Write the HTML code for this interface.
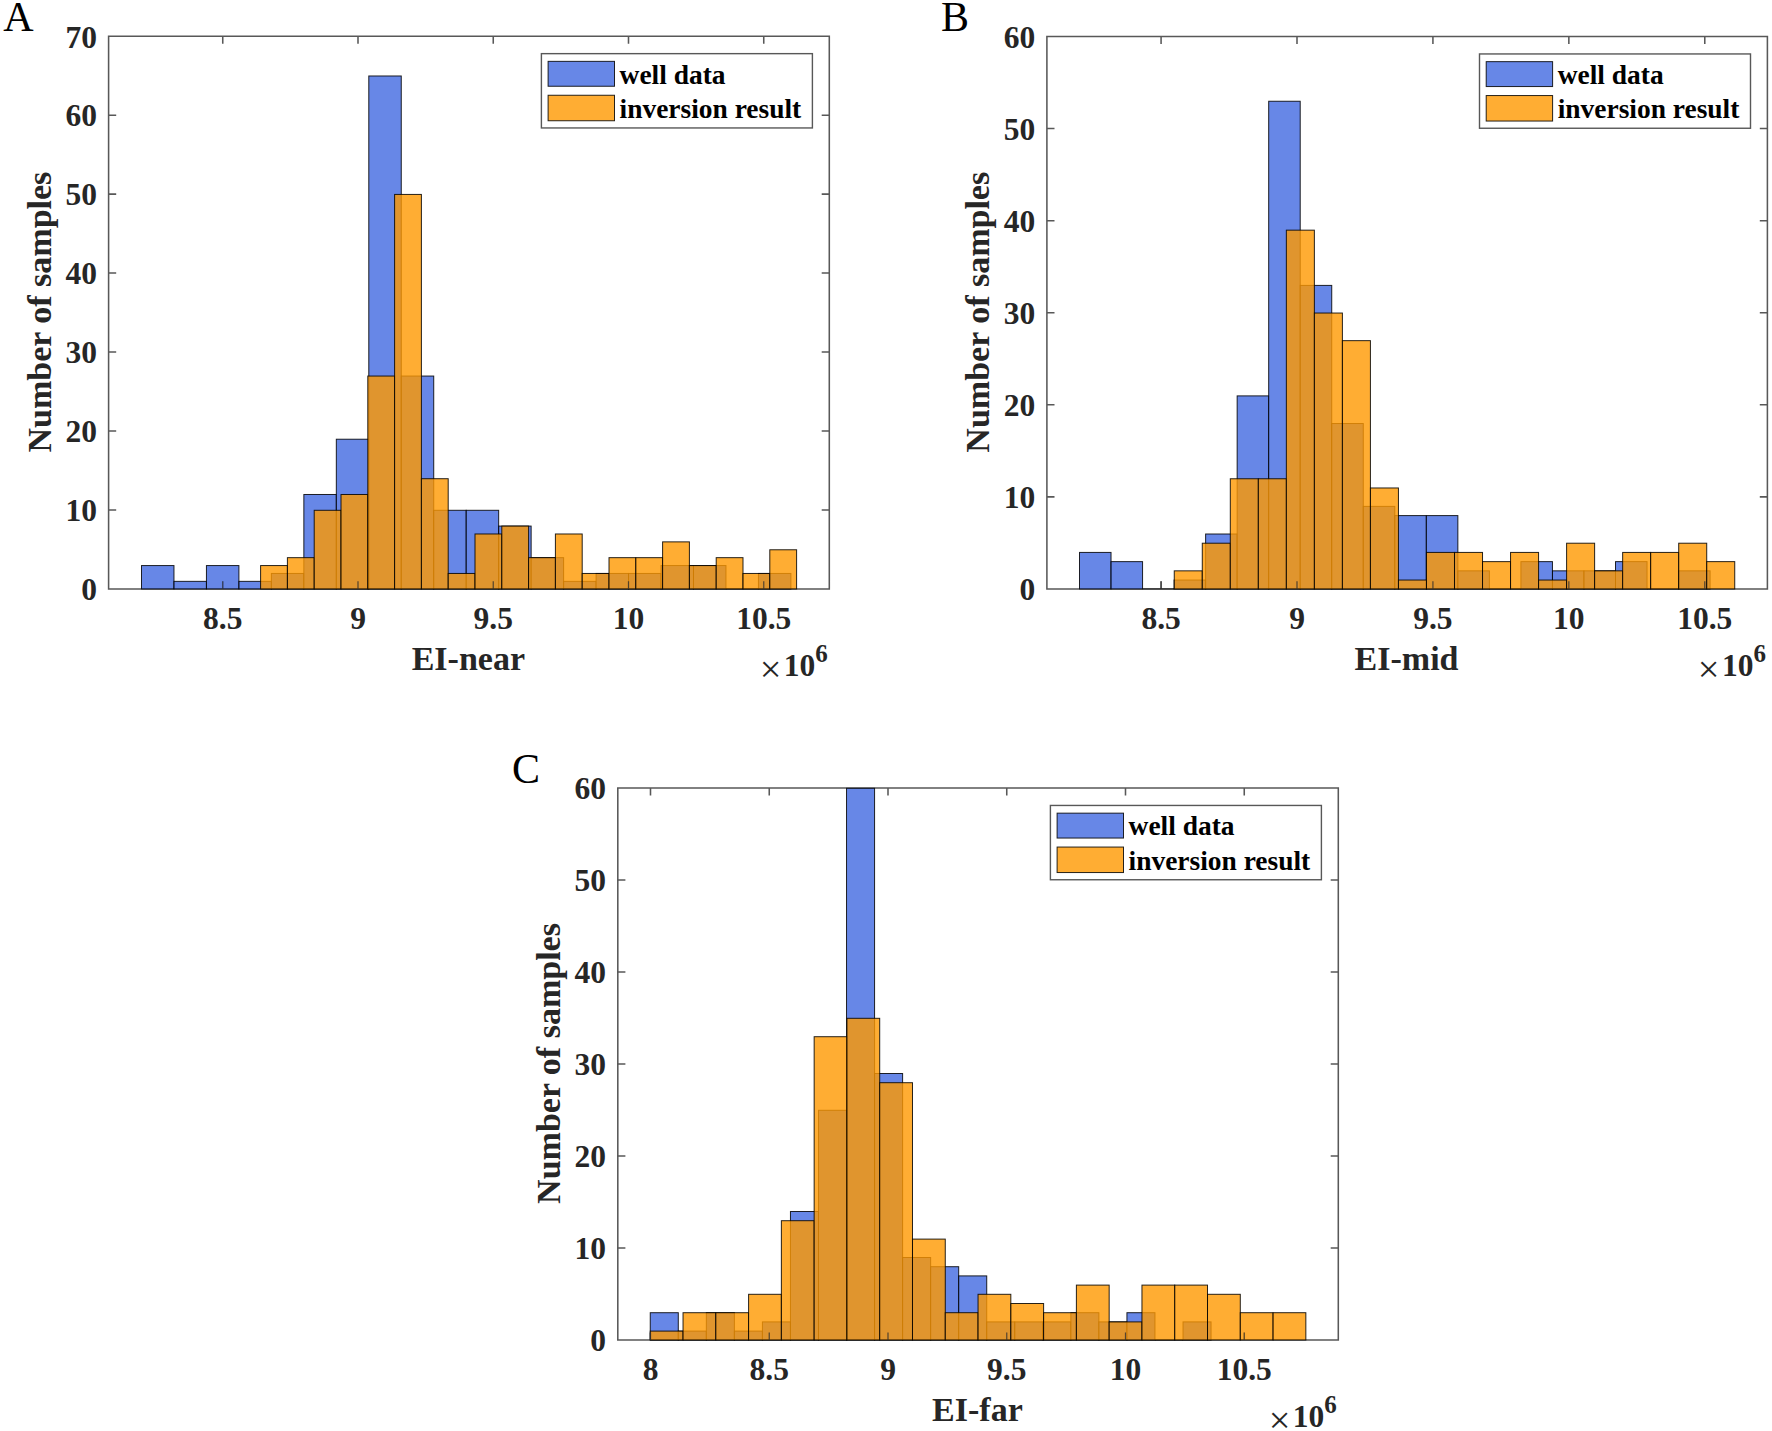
<!DOCTYPE html>
<html lang="en">
<head>
<meta charset="utf-8">
<title>EI histograms</title>
<style>
html,body{margin:0;padding:0;background:#fff;}
body{width:1772px;height:1431px;overflow:hidden;}
svg{display:block;}
text{font-family:"Liberation Serif","Times New Roman",Times,serif;}
.tk{font-size:31.5px;font-weight:bold;fill:#262626;}
.lb{font-size:34px;font-weight:bold;fill:#262626;}
.lg{font-size:27.45px;font-weight:bold;fill:#000;}
.pl{font-size:42px;font-weight:normal;fill:#000;}
.ax{stroke:#585858;stroke-width:1.55;fill:none;}
.bb{fill:rgb(65,105,225);fill-opacity:0.8;stroke:#000;stroke-width:1;stroke-opacity:0.85;}
.ob{fill:rgb(255,153,0);fill-opacity:0.8;stroke:#000;stroke-width:1;stroke-opacity:0.85;}
</style>
</head>
<body>
<svg width="1772" height="1431" viewBox="0 0 1772 1431">
<rect x="0" y="0" width="1772" height="1431" fill="#fff"/>
<g id="panel-A">
<text class="pl" x="3.3" y="30.5">A</text>
<path class="ax" d="M108.6 36.2H829.3V588.95H108.6ZM222.75 588.95v-7.6M222.75 36.2v7.6M358 588.95v-7.6M358 36.2v7.6M493.25 588.95v-7.6M493.25 36.2v7.6M628.5 588.95v-7.6M628.5 36.2v7.6M763.75 588.95v-7.6M763.75 36.2v7.6M108.6 588.95h7.6M829.3 588.95h-7.6M108.6 509.99h7.6M829.3 509.99h-7.6M108.6 431.02h7.6M829.3 431.02h-7.6M108.6 352.06h7.6M829.3 352.06h-7.6M108.6 273.09h7.6M829.3 273.09h-7.6M108.6 194.13h7.6M829.3 194.13h-7.6M108.6 115.16h7.6M829.3 115.16h-7.6M108.6 36.2h7.6M829.3 36.2h-7.6"/>
<g class="bb">
<rect x="141.5" y="565.56" width="32.47" height="23.39"/><rect x="173.97" y="581.35" width="32.47" height="7.6"/><rect x="206.44" y="565.56" width="32.47" height="23.39"/><rect x="238.91" y="581.35" width="32.47" height="7.6"/><rect x="271.38" y="573.46" width="32.47" height="15.49"/><rect x="303.85" y="494.49" width="32.47" height="94.46"/><rect x="336.32" y="439.22" width="32.47" height="149.73"/><rect x="368.79" y="75.98" width="32.47" height="512.97"/><rect x="401.26" y="376.05" width="32.47" height="212.9"/><rect x="433.73" y="510.29" width="32.47" height="78.66"/><rect x="466.2" y="510.29" width="32.47" height="78.66"/><rect x="498.67" y="526.08" width="32.47" height="62.87"/><rect x="531.14" y="557.66" width="32.47" height="31.29"/><rect x="563.61" y="581.35" width="32.47" height="7.6"/><rect x="596.08" y="573.46" width="32.47" height="15.49"/><rect x="628.55" y="573.46" width="32.47" height="15.49"/><rect x="661.02" y="565.56" width="32.47" height="23.39"/><rect x="693.49" y="565.56" width="32.47" height="23.39"/><path d="M725.96 588.95h32.47"/><rect x="758.43" y="573.46" width="32.47" height="15.49"/>
</g>
<g class="ob">
<rect x="260.6" y="565.56" width="26.8" height="23.39"/><rect x="287.4" y="557.66" width="26.8" height="31.29"/><rect x="314.2" y="510.29" width="26.8" height="78.66"/><rect x="341" y="494.49" width="26.8" height="94.46"/><rect x="367.8" y="376.05" width="26.8" height="212.9"/><rect x="394.6" y="194.43" width="26.8" height="394.52"/><rect x="421.4" y="478.7" width="26.8" height="110.25"/><rect x="448.2" y="573.46" width="26.8" height="15.49"/><rect x="475" y="533.98" width="26.8" height="54.98"/><rect x="501.8" y="526.08" width="26.8" height="62.87"/><rect x="528.6" y="557.66" width="26.8" height="31.29"/><rect x="555.4" y="533.98" width="26.8" height="54.98"/><rect x="582.2" y="573.46" width="26.8" height="15.49"/><rect x="609" y="557.66" width="26.8" height="31.29"/><rect x="635.8" y="557.66" width="26.8" height="31.29"/><rect x="662.6" y="541.87" width="26.8" height="47.08"/><rect x="689.4" y="565.56" width="26.8" height="23.39"/><rect x="716.2" y="557.66" width="26.8" height="31.29"/><rect x="743" y="573.46" width="26.8" height="15.49"/><rect x="769.8" y="549.77" width="26.8" height="39.18"/>
</g>
<path class="ax" style="stroke:#333;stroke-opacity:0.8;stroke-width:1.2" d="M222.75 588.95v-7.6M358 588.95v-7.6M493.25 588.95v-7.6M628.5 588.95v-7.6M763.75 588.95v-7.6"/>
<text class="tk" text-anchor="middle" x="222.75" y="628.75">8.5</text>
<text class="tk" text-anchor="middle" x="358" y="628.75">9</text>
<text class="tk" text-anchor="middle" x="493.25" y="628.75">9.5</text>
<text class="tk" text-anchor="middle" x="628.5" y="628.75">10</text>
<text class="tk" text-anchor="middle" x="763.75" y="628.75">10.5</text>
<text class="tk" text-anchor="end" x="96.9" y="600.25">0</text>
<text class="tk" text-anchor="end" x="96.9" y="521.29">10</text>
<text class="tk" text-anchor="end" x="96.9" y="442.32">20</text>
<text class="tk" text-anchor="end" x="96.9" y="363.36">30</text>
<text class="tk" text-anchor="end" x="96.9" y="284.39">40</text>
<text class="tk" text-anchor="end" x="96.9" y="205.43">50</text>
<text class="tk" text-anchor="end" x="96.9" y="126.46">60</text>
<text class="tk" text-anchor="end" x="96.9" y="47.5">70</text>
<text class="lb" text-anchor="middle" x="468.35" y="670.15">EI-near</text>
<text class="lb" text-anchor="middle" transform="translate(50.8 312.08) rotate(-90)">Number of samples</text>
<text class="tk" text-anchor="end" x="827.8" y="675.65"><tspan font-weight="normal" font-size="38.5px" dy="6.3">×</tspan><tspan dx="2.4" dy="-6.3">10</tspan><tspan font-size="25px" dy="-13.7">6</tspan></text>
<rect x="541.4" y="53.65" width="271" height="74.3" fill="#fff" stroke="#585858" stroke-width="1.4"/>
<rect class="bb" x="548.1" y="61.35" width="66.4" height="24.9"/>
<rect class="ob" x="548.1" y="95.25" width="66.4" height="25.5"/>
<text class="lg" x="619.6" y="83.55">well data</text>
<text class="lg" x="619.6" y="117.95">inversion result</text>
</g>
<g id="panel-B">
<text class="pl" x="941" y="30.5">B</text>
<path class="ax" d="M1046.9 36.5H1767.4V588.95H1046.9ZM1161.08 588.95v-7.6M1161.08 36.5v7.6M1297 588.95v-7.6M1297 36.5v7.6M1432.92 588.95v-7.6M1432.92 36.5v7.6M1568.85 588.95v-7.6M1568.85 36.5v7.6M1704.78 588.95v-7.6M1704.78 36.5v7.6M1046.9 588.95h7.6M1767.4 588.95h-7.6M1046.9 496.88h7.6M1767.4 496.88h-7.6M1046.9 404.8h7.6M1767.4 404.8h-7.6M1046.9 312.73h7.6M1767.4 312.73h-7.6M1046.9 220.65h7.6M1767.4 220.65h-7.6M1046.9 128.57h7.6M1767.4 128.57h-7.6M1046.9 36.5h7.6M1767.4 36.5h-7.6"/>
<g class="bb">
<rect x="1079.5" y="552.42" width="31.53" height="36.53"/><rect x="1111.03" y="561.63" width="31.53" height="27.32"/><path d="M1142.56 588.95h31.53"/><rect x="1174.09" y="580.04" width="31.53" height="8.91"/><rect x="1205.62" y="534" width="31.53" height="54.95"/><rect x="1237.15" y="395.89" width="31.53" height="193.06"/><rect x="1268.68" y="101.25" width="31.53" height="487.7"/><rect x="1300.21" y="285.4" width="31.53" height="303.55"/><rect x="1331.74" y="423.52" width="31.53" height="165.44"/><rect x="1363.27" y="506.38" width="31.53" height="82.57"/><rect x="1394.8" y="515.59" width="31.53" height="73.36"/><rect x="1426.33" y="515.59" width="31.53" height="73.36"/><rect x="1457.86" y="570.84" width="31.53" height="18.12"/><path d="M1489.39 588.95h31.53"/><rect x="1520.92" y="561.63" width="31.53" height="27.32"/><rect x="1552.45" y="570.84" width="31.53" height="18.12"/><rect x="1583.98" y="570.84" width="31.53" height="18.12"/><rect x="1615.51" y="561.63" width="31.53" height="27.32"/><path d="M1647.04 588.95h31.53"/><rect x="1678.57" y="570.84" width="31.53" height="18.12"/>
</g>
<g class="ob">
<rect x="1174.25" y="570.84" width="28.02" height="18.12"/><rect x="1202.28" y="543.21" width="28.02" height="45.74"/><rect x="1230.3" y="478.76" width="28.02" height="110.19"/><rect x="1258.33" y="478.76" width="28.02" height="110.19"/><rect x="1286.35" y="230.16" width="28.02" height="358.79"/><rect x="1314.38" y="313.03" width="28.02" height="275.93"/><rect x="1342.4" y="340.65" width="28.02" height="248.3"/><rect x="1370.42" y="487.97" width="28.02" height="100.98"/><rect x="1398.45" y="580.04" width="28.02" height="8.91"/><rect x="1426.47" y="552.42" width="28.02" height="36.53"/><rect x="1454.5" y="552.42" width="28.02" height="36.53"/><rect x="1482.53" y="561.63" width="28.02" height="27.32"/><rect x="1510.55" y="552.42" width="28.02" height="36.53"/><rect x="1538.58" y="580.04" width="28.02" height="8.91"/><rect x="1566.6" y="543.21" width="28.02" height="45.74"/><rect x="1594.62" y="570.84" width="28.02" height="18.12"/><rect x="1622.65" y="552.42" width="28.02" height="36.53"/><rect x="1650.67" y="552.42" width="28.02" height="36.53"/><rect x="1678.7" y="543.21" width="28.02" height="45.74"/><rect x="1706.72" y="561.63" width="28.02" height="27.32"/>
</g>
<path class="ax" style="stroke:#333;stroke-opacity:0.8;stroke-width:1.2" d="M1161.08 588.95v-7.6M1297 588.95v-7.6M1432.92 588.95v-7.6M1568.85 588.95v-7.6M1704.78 588.95v-7.6"/>
<text class="tk" text-anchor="middle" x="1161.08" y="628.75">8.5</text>
<text class="tk" text-anchor="middle" x="1297" y="628.75">9</text>
<text class="tk" text-anchor="middle" x="1432.92" y="628.75">9.5</text>
<text class="tk" text-anchor="middle" x="1568.85" y="628.75">10</text>
<text class="tk" text-anchor="middle" x="1704.78" y="628.75">10.5</text>
<text class="tk" text-anchor="end" x="1035.2" y="600.25">0</text>
<text class="tk" text-anchor="end" x="1035.2" y="508.18">10</text>
<text class="tk" text-anchor="end" x="1035.2" y="416.1">20</text>
<text class="tk" text-anchor="end" x="1035.2" y="324.03">30</text>
<text class="tk" text-anchor="end" x="1035.2" y="231.95">40</text>
<text class="tk" text-anchor="end" x="1035.2" y="139.88">50</text>
<text class="tk" text-anchor="end" x="1035.2" y="47.8">60</text>
<text class="lb" text-anchor="middle" x="1406.55" y="670.15">EI-mid</text>
<text class="lb" text-anchor="middle" transform="translate(989.1 312.23) rotate(-90)">Number of samples</text>
<text class="tk" text-anchor="end" x="1765.9" y="675.65"><tspan font-weight="normal" font-size="38.5px" dy="6.3">×</tspan><tspan dx="2.4" dy="-6.3">10</tspan><tspan font-size="25px" dy="-13.7">6</tspan></text>
<rect x="1479.5" y="53.95" width="271" height="74.3" fill="#fff" stroke="#585858" stroke-width="1.4"/>
<rect class="bb" x="1486.2" y="61.65" width="66.4" height="24.9"/>
<rect class="ob" x="1486.2" y="95.55" width="66.4" height="25.5"/>
<text class="lg" x="1557.7" y="83.85">well data</text>
<text class="lg" x="1557.7" y="118.25">inversion result</text>
</g>
<g id="panel-C">
<text class="pl" x="512" y="782.5">C</text>
<path class="ax" d="M617.8 788H1338.3V1340H617.8ZM650.5 1340v-7.6M650.5 788v7.6M769.25 1340v-7.6M769.25 788v7.6M888 1340v-7.6M888 788v7.6M1006.75 1340v-7.6M1006.75 788v7.6M1125.5 1340v-7.6M1125.5 788v7.6M1244.25 1340v-7.6M1244.25 788v7.6M617.8 1340h7.6M1338.3 1340h-7.6M617.8 1248h7.6M1338.3 1248h-7.6M617.8 1156h7.6M1338.3 1156h-7.6M617.8 1064h7.6M1338.3 1064h-7.6M617.8 972h7.6M1338.3 972h-7.6M617.8 880h7.6M1338.3 880h-7.6M617.8 788h7.6M1338.3 788h-7.6"/>
<g class="bb">
<rect x="650.25" y="1312.7" width="28.04" height="27.3"/><rect x="678.29" y="1331.1" width="28.04" height="8.9"/><rect x="706.33" y="1312.7" width="28.04" height="27.3"/><rect x="734.37" y="1331.1" width="28.04" height="8.9"/><rect x="762.41" y="1321.9" width="28.04" height="18.1"/><rect x="790.45" y="1211.5" width="28.04" height="128.5"/><rect x="818.49" y="1110.3" width="28.04" height="229.7"/><rect x="846.53" y="788.3" width="28.04" height="551.7"/><rect x="874.57" y="1073.5" width="28.04" height="266.5"/><rect x="902.61" y="1257.5" width="28.04" height="82.5"/><rect x="930.65" y="1266.7" width="28.04" height="73.3"/><rect x="958.69" y="1275.9" width="28.04" height="64.1"/><rect x="986.73" y="1321.9" width="28.04" height="18.1"/><rect x="1014.77" y="1321.9" width="28.04" height="18.1"/><rect x="1042.81" y="1321.9" width="28.04" height="18.1"/><rect x="1070.85" y="1312.7" width="28.04" height="27.3"/><rect x="1098.89" y="1321.9" width="28.04" height="18.1"/><rect x="1126.93" y="1312.7" width="28.04" height="27.3"/><path d="M1154.97 1340h28.04"/><rect x="1183.01" y="1321.9" width="28.04" height="18.1"/>
</g>
<g class="ob">
<rect x="650.25" y="1331.1" width="32.78" height="8.9"/><rect x="683.03" y="1312.7" width="32.78" height="27.3"/><rect x="715.81" y="1312.7" width="32.78" height="27.3"/><rect x="748.59" y="1294.3" width="32.78" height="45.7"/><rect x="781.37" y="1220.7" width="32.78" height="119.3"/><rect x="814.15" y="1036.7" width="32.78" height="303.3"/><rect x="846.93" y="1018.3" width="32.78" height="321.7"/><rect x="879.71" y="1082.7" width="32.78" height="257.3"/><rect x="912.49" y="1239.1" width="32.78" height="100.9"/><rect x="945.27" y="1312.7" width="32.78" height="27.3"/><rect x="978.05" y="1294.3" width="32.78" height="45.7"/><rect x="1010.83" y="1303.5" width="32.78" height="36.5"/><rect x="1043.61" y="1312.7" width="32.78" height="27.3"/><rect x="1076.39" y="1285.1" width="32.78" height="54.9"/><rect x="1109.17" y="1321.9" width="32.78" height="18.1"/><rect x="1141.95" y="1285.1" width="32.78" height="54.9"/><rect x="1174.73" y="1285.1" width="32.78" height="54.9"/><rect x="1207.51" y="1294.3" width="32.78" height="45.7"/><rect x="1240.29" y="1312.7" width="32.78" height="27.3"/><rect x="1273.07" y="1312.7" width="32.78" height="27.3"/>
</g>
<path class="ax" style="stroke:#333;stroke-opacity:0.8;stroke-width:1.2" d="M650.5 1340v-7.6M769.25 1340v-7.6M888 1340v-7.6M1006.75 1340v-7.6M1125.5 1340v-7.6M1244.25 1340v-7.6"/>
<text class="tk" text-anchor="middle" x="650.5" y="1379.8">8</text>
<text class="tk" text-anchor="middle" x="769.25" y="1379.8">8.5</text>
<text class="tk" text-anchor="middle" x="888" y="1379.8">9</text>
<text class="tk" text-anchor="middle" x="1006.75" y="1379.8">9.5</text>
<text class="tk" text-anchor="middle" x="1125.5" y="1379.8">10</text>
<text class="tk" text-anchor="middle" x="1244.25" y="1379.8">10.5</text>
<text class="tk" text-anchor="end" x="606.1" y="1351.3">0</text>
<text class="tk" text-anchor="end" x="606.1" y="1259.3">10</text>
<text class="tk" text-anchor="end" x="606.1" y="1167.3">20</text>
<text class="tk" text-anchor="end" x="606.1" y="1075.3">30</text>
<text class="tk" text-anchor="end" x="606.1" y="983.3">40</text>
<text class="tk" text-anchor="end" x="606.1" y="891.3">50</text>
<text class="tk" text-anchor="end" x="606.1" y="799.3">60</text>
<text class="lb" text-anchor="middle" x="977.45" y="1421.2">EI-far</text>
<text class="lb" text-anchor="middle" transform="translate(560 1063.5) rotate(-90)">Number of samples</text>
<text class="tk" text-anchor="end" x="1336.8" y="1426.7"><tspan font-weight="normal" font-size="38.5px" dy="6.3">×</tspan><tspan dx="2.4" dy="-6.3">10</tspan><tspan font-size="25px" dy="-13.7">6</tspan></text>
<rect x="1050.4" y="805.45" width="271" height="74.3" fill="#fff" stroke="#585858" stroke-width="1.4"/>
<rect class="bb" x="1057.1" y="813.15" width="66.4" height="24.9"/>
<rect class="ob" x="1057.1" y="847.05" width="66.4" height="25.5"/>
<text class="lg" x="1128.6" y="835.35">well data</text>
<text class="lg" x="1128.6" y="869.75">inversion result</text>
</g>
</svg>
</body>
</html>
